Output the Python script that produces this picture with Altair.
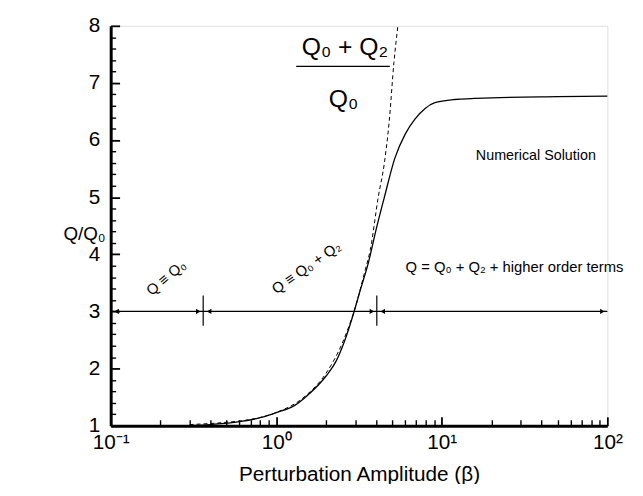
import altair as alt
import pandas as pd

# numerical solution
beta_num = [0.3, 0.4, 0.6, 0.8, 1.0, 1.3, 1.5, 2.0, 2.3, 2.6, 2.9, 3.2, 3.6, 4.0, 4.5, 5.2, 6.0, 6.9, 7.9, 9.0, 12, 20, 50, 100]
q_num = [1.0, 1.02, 1.07, 1.14, 1.23, 1.36, 1.5, 1.87, 2.13, 2.5, 2.92, 3.35, 3.85, 4.42, 5.0, 5.68, 6.1, 6.37, 6.55, 6.65, 6.71, 6.74, 6.76, 6.77]

# (Q0 + Q2)/Q0 approximation (dashed)
beta_dash = [0.3, 0.5, 0.7, 1.0, 1.5, 2.0, 2.5, 3.0, 3.45, 3.7, 4.13, 4.5, 4.81, 5.14, 5.43]
q_dash = [1.02, 1.06, 1.11, 1.23, 1.52, 1.92, 2.44, 3.07, 3.73, 4.08, 5.0, 5.6, 6.32, 7.36, 8.0]

# regime boundaries along Q/Q0 = 3
arrow_level = 3
bounds = [0.1, 0.362, 4.05, 100]

x_ticks_major = [0.1, 1, 10, 100]
x_ticks_minor = [0.2, 0.3, 0.4, 0.5, 0.6, 0.7, 0.8, 0.9, 2, 3, 4, 5, 6, 7, 8, 9, 20, 30, 40, 50, 60, 70, 80, 90]
y_ticks_major = [1, 2, 3, 4, 5, 6, 7, 8]
y_ticks_minor = [round(i + f, 1) for i in range(1, 8) for f in (0.2, 0.4, 0.6, 0.8)]

labels_text = ["Q \u2261 Q\u2080", "Q \u2261 Q\u2080 + Q\u2082", "Q = Q\u2080 + Q\u2082 + higher order terms", "Numerical Solution"]
labels_x = [0.216, 1.52, 27.5, 37.0]
labels_y = [3.59, 3.77, 3.77, 5.72]
labels_angle = [320, 325, 0, 0]
labels_size = [15, 15, 15, 14.5]

frac_num = "Q\u2080 + Q\u2082"
frac_den = "Q\u2080"

FONT = "Liberation Sans"
W, H = 503, 405
X_MIN, X_MAX, Y_MIN, Y_MAX = 0.1, 100, 1, 8

xs = alt.Scale(type="log", domain=[X_MIN, X_MAX], nice=False)
ys = alt.Scale(domain=[Y_MIN, Y_MAX], nice=False, zero=False)

num_df = pd.DataFrame({"b": beta_num, "q": q_num})
dash_df = pd.DataFrame({"b": beta_dash, "q": q_dash})

xaxis = alt.Axis(values=x_ticks_major, ticks=False, grid=False, domainWidth=3, domainColor="black",
                 labelFont=FONT, labelFontSize=21, labelColor="black", labelFlush=False, labelOverlap=False,
                 labelPadding=6,
                 labelExpr="datum.value < 0.5 ? '10\u207b\u00b9' : datum.value < 5 ? '10\u2070' : datum.value < 50 ? '10\u00b9' : '10\u00b2'",
                 title="Perturbation Amplitude (\u03b2)", titleFont=FONT, titleFontSize=21, titleFontWeight="normal",
                 titleColor="black", titleBaseline="middle", titleY=50)
yaxis = alt.Axis(values=y_ticks_major, format="d", ticks=False, grid=False, domainWidth=3, domainColor="black",
                 labelFont=FONT, labelFontSize=21, labelColor="black", labelPadding=11,
                 title="Q/Q\u2080", titleFont=FONT, titleFontSize=19, titleFontWeight="normal", titleColor="black",
                 titleAngle=0, titleAlign="center", titleBaseline="middle", titleX=-27, titleY=210)

def X(field, **kw):
    return alt.X(field, scale=xs, axis=None, **kw)
def Y(field, **kw):
    return alt.Y(field, scale=ys, axis=None, **kw)

num = alt.Chart(num_df).mark_line(color="black", strokeWidth=1.3, interpolate="monotone").encode(
    x=alt.X("b:Q", scale=xs, axis=xaxis),
    y=alt.Y("q:Q", scale=ys, axis=yaxis),
)
dash = alt.Chart(dash_df).mark_line(color="black", strokeWidth=1, strokeDash=[4, 3], interpolate="monotone").encode(
    x=X("b:Q"), y=Y("q:Q"))

# inward ticks: tick-only axes placed on the opposite side and shifted across the plot
def tick_axis_y(vals, size, width):
    return alt.Axis(orient="right", offset=-W, values=vals, labels=False, domain=False, grid=False, title=None,
                    ticks=True, tickSize=size, tickWidth=width, tickColor="black")
def tick_axis_x(vals, size, width):
    return alt.Axis(orient="top", offset=-H, values=vals, labels=False, domain=False, grid=False, title=None,
                    ticks=True, tickSize=size, tickWidth=width, tickColor="black")

ytm = alt.Chart(pd.DataFrame({"yt": y_ticks_major})).mark_point(opacity=0).encode(
    y=alt.Y("yt:Q", scale=ys, axis=tick_axis_y(y_ticks_major, 9, 1.8)))
ytn = alt.Chart(pd.DataFrame({"yn": y_ticks_minor})).mark_point(opacity=0).encode(
    y=alt.Y("yn:Q", scale=ys, axis=tick_axis_y(y_ticks_minor, 5, 1.4)))
xtm = alt.Chart(pd.DataFrame({"xt": x_ticks_major})).mark_point(opacity=0).encode(
    x=alt.X("xt:Q", scale=xs, axis=tick_axis_x(x_ticks_major, 9, 1.8)))
xtn = alt.Chart(pd.DataFrame({"xn": x_ticks_minor})).mark_point(opacity=0).encode(
    x=alt.X("xn:Q", scale=xs, axis=tick_axis_x(x_ticks_minor, 6, 1.4)))

# arrows
seg_df = pd.DataFrame({"a": bounds[:-1], "b": bounds[1:], "y": [arrow_level] * 3})
segs = alt.Chart(seg_df).mark_rule(color="black", strokeWidth=1.2).encode(
    x=X("a:Q"), x2="b:Q", y=Y("y:Q"))
sep_df = pd.DataFrame({"x": bounds[1:3], "y1": [arrow_level - 0.25] * 2, "y2": [arrow_level + 0.28] * 2})
seps = alt.Chart(sep_df).mark_rule(color="black", strokeWidth=1.2).encode(
    x=X("x:Q"), y=Y("y1:Q"), y2="y2:Q")
rh = alt.Chart(pd.DataFrame({"x": bounds[1:], "y": [arrow_level] * 3})).mark_point(
    shape="triangle-right", filled=True, size=28, color="black", opacity=1, xOffset=-5).encode(
    x=X("x:Q"), y=Y("y:Q"))
lh = alt.Chart(pd.DataFrame({"x": bounds[:-1], "y": [arrow_level] * 3})).mark_point(
    shape="triangle-left", filled=True, size=28, color="black", opacity=1, xOffset=6).encode(
    x=X("x:Q"), y=Y("y:Q"))

lab_df = pd.DataFrame({"t": labels_text, "x": labels_x, "y": labels_y, "ang": labels_angle, "fs": labels_size})
labs = alt.Chart(lab_df).mark_text(font=FONT, color="black", align="center", baseline="middle").encode(
    x=X("x:Q"), y=Y("y:Q"), text="t:N",
    angle=alt.Angle("ang:Q", scale=None), size=alt.Size("fs:Q", scale=None))

frac_df = pd.DataFrame({"t": [frac_num, frac_den], "x": [2.6, 2.55], "y": [7.62, 6.72]})
frac = alt.Chart(frac_df).mark_text(font=FONT, fontSize=25, color="black", align="center", baseline="middle").encode(
    x=X("x:Q"), y=Y("y:Q"), text="t:N")
fline = alt.Chart(pd.DataFrame({"a": [1.32], "b": [4.85], "y": [7.29]})).mark_rule(color="black", strokeWidth=1.2).encode(
    x=X("a:Q"), x2="b:Q", y=Y("y:Q"))

chart = alt.layer(num, dash, segs, seps, rh, lh, labs, frac, fline, ytm, ytn, xtm, xtn).resolve_axis(
    x="independent", y="independent"
).properties(
    width=W, height=H, autosize=alt.AutoSizeParams(type="none"),
    padding={"left": 104, "top": 15, "right": 28, "bottom": 56},
).configure_view(stroke=None).configure(background="white")

chart.save("out.html", embed_options={"renderer": "svg", "actions": False})
